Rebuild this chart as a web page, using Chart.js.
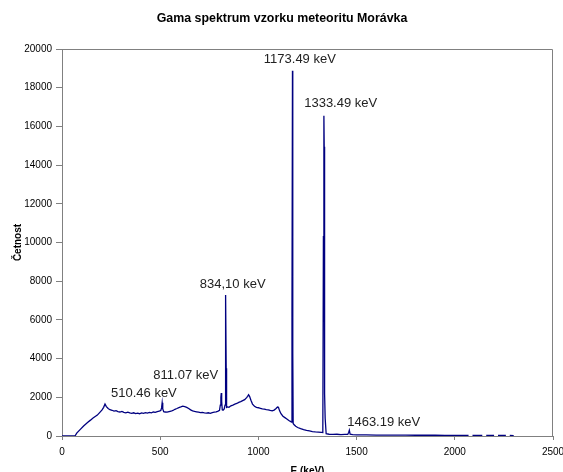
<!DOCTYPE html>
<html>
<head>
<meta charset="utf-8">
<script src="https://cdn.jsdelivr.net/npm/chart.js@4/dist/chart.umd.min.js"></script>
<style>
  html, body { margin: 0; padding: 0; background: #fff; }
  #box { width: 563px; height: 472px; }
</style>
</head>
<body>
<div id="box"><canvas id="graf"></canvas></div>
<script>
// spektrum (energie v keV, četnost)
const energie = [
    0, 40, 66, 75, 92, 110, 130, 145, 158, 180, 195, 204, 212, 219, 226, 235, 244,
    255, 265, 275, 285, 295, 305, 315, 325, 335, 345, 355, 365, 375, 385, 395, 405,
    415, 425, 435, 445, 455, 465, 475, 485, 495, 503, 507, 510, 513, 518, 525, 535,
    545, 555, 565, 575, 585, 595, 605, 615, 625, 635, 645, 655, 665, 675, 685, 695,
    705, 715, 725, 735, 745, 755, 765, 775, 785, 795, 802, 806, 809, 811, 813, 816,
    820, 826, 830, 832, 834, 836, 838, 842, 850, 860, 870, 880, 890, 900, 910, 920,
    930, 940, 945, 950, 955, 962, 970, 980, 990, 1000, 1010, 1020, 1030, 1040, 1050,
    1060, 1070, 1080, 1090, 1097, 1102, 1108, 1115, 1125, 1135, 1145, 1155, 1165, 1169,
    1171, 1173.5, 1175, 1177, 1182, 1190, 1200, 1215, 1230, 1245, 1260, 1275, 1290,
    1305, 1320, 1328, 1331, 1333.5, 1335, 1337, 1340, 1345, 1360, 1380, 1400, 1420,
    1440, 1455, 1460, 1463, 1467, 1480, 1500, 1550, 1600, 1650, 1700, 1750, 1800,
    1850, 1900, 1950, 2000, 2050, 2070, 2080, 2090, 2140, 2150, 2160, 2200, 2210,
    2220, 2260, 2270, 2280, 2300
];
const cetnost = [
    0, 0, 0, 150, 330, 520, 700, 820, 930, 1080, 1250, 1350, 1480, 1650, 1520, 1420, 1360,
    1330, 1290, 1310, 1260, 1240, 1270, 1220, 1200, 1230, 1190, 1170, 1200, 1160, 1180, 1150, 1190,
    1170, 1210, 1180, 1220, 1200, 1240, 1220, 1260, 1280, 1320, 1450, 1720, 1400, 1260, 1240, 1230,
    1260, 1280, 1320, 1380, 1420, 1470, 1500, 1540, 1520, 1480, 1420, 1350, 1300, 1270, 1250, 1230,
    1210, 1220, 1190, 1180, 1200, 1170, 1210, 1230, 1250, 1290, 1330, 1600, 2000, 2220, 1800, 1350,
    1330, 1400, 1600, 3650, 7290, 3500, 1480, 1500, 1480, 1560, 1600, 1650, 1680, 1740, 1780, 1830,
    1880, 1980, 2050, 2130, 2050, 1850, 1650, 1540, 1480, 1460, 1430, 1400, 1390, 1360, 1350,
    1320, 1300, 1340, 1420, 1500, 1480, 1300, 1150, 1020, 950, 880, 800, 740, 720,
    6360, 18880, 4290, 650, 580, 500, 440, 380, 330, 290, 260, 230, 210,
    200, 190, 180, 10300, 16550, 14950, 2200, 900, 120, 90, 80, 90, 70,
    80, 80, 200, 300, 90, 70, 60, 55, 50, 50, 45, 45, 40,
    40, 40, 35, 35, 30, 30, null, 30, 30, null, 30, 25, null,
    25, 25, null, 25, 20
];

// popisky píků: text a místo (v jednotkách os)
const popisky = ['510.46 keV', '811.07 keV', '834,10 keV', '1173.49 keV', '1333.49 keV', '1463.19 keV'];
const popiskyE = [417, 630, 869, 1211, 1419, 1638];
const popiskyC = [2225, 3150, 7810, 19450, 17180, 725];

const nadpis = 'Gama spektrum vzorku meteoritu Morávka';
const PISMO = '"Liberation Sans", Arial, sans-serif';

const popiskyPlugin = {
    id: 'popisky',
    afterDatasetsDraw(chart) {
        const { ctx, chartArea: a, scales: { x, y } } = chart;
        ctx.save();
        // rámeček nahoře a vpravo
        ctx.strokeStyle = '#808080';
        ctx.lineWidth = 1;
        ctx.beginPath();
        ctx.moveTo(a.left, a.top + 0.5);
        ctx.lineTo(a.right - 0.5, a.top + 0.5);
        ctx.lineTo(a.right - 0.5, a.bottom);
        ctx.stroke();

        ctx.fillStyle = '#222';
        ctx.textAlign = 'center';
        ctx.textBaseline = 'middle';
        ctx.font = '13px ' + PISMO;
        popisky.forEach((t, i) => {
            ctx.fillText(t, x.getPixelForValue(popiskyE[i]), y.getPixelForValue(popiskyC[i]));
        });

        ctx.fillStyle = '#000';
        ctx.font = 'bold 12.4px ' + PISMO;
        ctx.fillText(nadpis, 282, 19);
        ctx.restore();
    }
};

new Chart(document.getElementById('graf'), {
    type: 'line',
    data: {
        datasets: [{
            data: energie.map((e, i) => ({ x: e, y: cetnost[i] })),
            borderColor: '#000080',
            borderWidth: 1.3,
            pointRadius: 0,
            tension: 0,
            spanGaps: false,
            fill: false
        }]
    },
    options: {
        responsive: true,
        maintainAspectRatio: false,
        animation: false,
        layout: { padding: { top: 49, right: 10, left: 0, bottom: 0 } },
        plugins: { legend: { display: false }, tooltip: { enabled: false } },
        scales: {
            x: {
                type: 'linear', min: 0, max: 2500,
                ticks: { stepSize: 500, color: '#000', padding: 6, maxRotation: 0, font: { family: PISMO, size: 10 }, callback: v => String(v) },
                grid: { drawOnChartArea: false, tickLength: 4, color: '#808080' },
                border: { color: '#808080' },
                title: { display: true, text: 'E (keV)', color: '#000', padding: { top: 0, bottom: -5 }, font: { family: PISMO, size: 10, weight: 'bold' } },
                afterFit: s => { s.height = 36; s.paddingLeft = 0; s.paddingRight = 0; }
            },
            y: {
                min: 0, max: 20000,
                ticks: { stepSize: 2000, color: '#000', padding: 4, font: { family: PISMO, size: 10 }, callback: v => String(v) },
                grid: { drawOnChartArea: false, tickLength: 6, color: '#808080' },
                border: { color: '#808080' },
                title: { display: true, text: 'Četnost', color: '#000', padding: { top: 12, bottom: 0 }, font: { family: PISMO, size: 10, weight: 'bold' } },
                afterFit: s => { s.width = 62; s.paddingTop = 0; s.paddingBottom = 0; }
            }
        }
    },
    plugins: [popiskyPlugin]
});
</script>
</body>
</html>
